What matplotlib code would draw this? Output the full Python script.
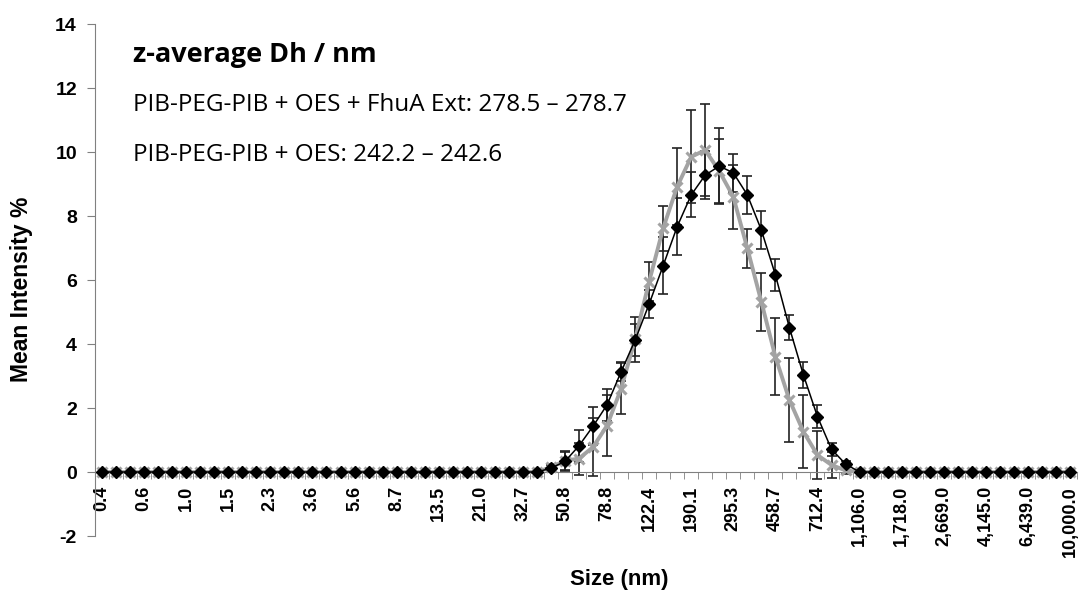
import numpy as np
import matplotlib
matplotlib.use("Agg")
import matplotlib.pyplot as plt

plt.rcParams["font.family"] = ["Liberation Sans", "DejaVu Sans"]
plt.rcParams["axes.unicode_minus"] = False

# DLS size bins (nm) - 70 classes
sizes = [0.4, 0.4632, 0.5365, 0.6213, 0.7195, 0.8332, 0.9649, 1.117, 1.294, 1.499,
         1.736, 2.010, 2.328, 2.696, 3.122, 3.615, 4.187, 4.849, 5.615, 6.503,
         7.531, 8.721, 10.10, 11.70, 13.54, 15.69, 18.17, 21.04, 24.36, 28.21,
         32.67, 37.84, 43.82, 50.75, 58.77, 68.06, 78.82, 91.28, 105.7, 122.4,
         141.8, 164.2, 190.1, 220.2, 255.0, 295.3, 342.0, 396.1, 458.7, 531.2,
         615.1, 712.4, 825.0, 955.4, 1106, 1281, 1484, 1718, 1990, 2305,
         2669, 3091, 3580, 4145, 4801, 5560, 6439, 7456, 8635, 10000]
tick_labels = ["0.4", "0.6", "1.0", "1.5", "2.3", "3.6", "5.6", "8.7", "13.5", "21.0",
               "32.7", "50.8", "78.8", "122.4", "190.1", "295.3", "458.7", "712.4",
               "1,106.0", "1,718.0", "2,669.0", "4,145.0", "6,439.0", "10,000.0"]

# PIB-PEG-PIB + OES + FhuA Ext (black diamonds)
fhua = [0, 0, 0, 0, 0, 0, 0, 0, 0, 0,
        0, 0, 0, 0, 0, 0, 0, 0, 0, 0,
        0, 0, 0, 0, 0, 0, 0, 0, 0, 0,
        0, 0.0, 0.12, 0.33, 0.82, 1.43, 2.10, 3.13, 4.12, 5.25,
        6.45, 7.67, 8.66, 9.28, 9.56, 9.35, 8.66, 7.56, 6.16, 4.51,
        3.03, 1.73, 0.71, 0.25, 0.0, 0, 0, 0, 0, 0,
        0, 0, 0, 0, 0, 0, 0, 0, 0, 0]
fhua_err = [0, 0, 0, 0, 0, 0, 0, 0, 0, 0,
            0, 0, 0, 0, 0, 0, 0, 0, 0, 0,
            0, 0, 0, 0, 0, 0, 0, 0, 0, 0,
            0, 0, 0.1, 0.3, 0.5, 0.6, 0.5, 0.3, 0.5, 0.45,
            0.9, 0.9, 0.7, 0.75, 1.2, 0.6, 0.6, 0.6, 0.5, 0.4,
            0.4, 0.35, 0.2, 0.1, 0, 0, 0, 0, 0, 0,
            0, 0, 0, 0, 0, 0, 0, 0, 0, 0]

# PIB-PEG-PIB + OES (grey crosses)
oes = [0, 0, 0, 0, 0, 0, 0, 0, 0, 0,
       0, 0, 0, 0, 0, 0, 0, 0, 0, 0,
       0, 0, 0, 0, 0, 0, 0, 0, 0, 0,
       0, 0.0, 0.15, 0.35, 0.42, 0.78, 1.45, 2.60, 4.15, 5.95,
       7.62, 8.92, 9.85, 10.06, 9.40, 8.60, 6.99, 5.32, 3.60, 2.25,
       1.26, 0.53, 0.22, 0.05, 0.0, 0, 0, 0, 0, 0,
       0, 0, 0, 0, 0, 0, 0, 0, 0, 0]
oes_err = [0, 0, 0, 0, 0, 0, 0, 0, 0, 0,
           0, 0, 0, 0, 0, 0, 0, 0, 0, 0,
           0, 0, 0, 0, 0, 0, 0, 0, 0, 0,
           0, 0, 0.1, 0.3, 0.5, 0.9, 0.95, 0.8, 0.7, 0.6,
           0.7, 1.2, 1.45, 1.45, 1.0, 1.0, 0.6, 0.9, 1.2, 1.3,
           1.15, 0.75, 0.4, 0.1, 0, 0, 0, 0, 0, 0,
           0, 0, 0, 0, 0, 0, 0, 0, 0, 0]

x = np.arange(len(sizes))

fig = plt.figure(figsize=(10.81, 5.90), dpi=100)
ax = fig.add_axes([0.0879, 0.0915, 0.9084, 0.8678])

grey = "#a3a3a3"
ax.errorbar(x, oes, yerr=np.where(np.array(oes_err) > 0, oes_err, np.nan), fmt="none",
            ecolor="#222222", elinewidth=1.2, capsize=3.5, capthick=1.2, zorder=2)
ax.errorbar(x, fhua, yerr=np.where(np.array(fhua_err) > 0, fhua_err, np.nan), fmt="none",
            ecolor="#222222", elinewidth=1.2, capsize=3.5, capthick=1.2, zorder=2)
ax.plot(x, oes, color=grey, lw=2.8, marker="x", ms=7, mew=2.2, zorder=3)
ax.plot(x, fhua, color="black", lw=1.1, marker="D", ms=6, zorder=4)

ax.set_xlim(-0.5, len(sizes) - 0.5)
ax.set_ylim(-2, 14)
ax.set_yticks(np.arange(-2, 15, 2))
ax.set_xticks(x[::3])
ax.set_xticklabels(tick_labels)
ax.set_xticks(np.arange(-0.5, len(sizes), 1), minor=True)

for s in ["top", "right"]:
    ax.spines[s].set_visible(False)
ax.spines["bottom"].set_position(("data", 0))
ax.spines["left"].set_color("#808080")
ax.spines["bottom"].set_color("#808080")
ax.tick_params(axis="y", length=6, color="#808080", pad=7, labelsize=14)
ax.tick_params(axis="x", which="major", length=0, pad=10, labelsize=13,
               labelrotation=90)
ax.tick_params(axis="x", which="minor", length=5, color="#808080")
for lab in ax.get_xticklabels() + ax.get_yticklabels():
    lab.set_fontweight("bold")

fig.text(0.020, 0.510, "Mean Intensity %", rotation=90, ha="center", va="center",
         fontsize=16.5, fontweight="bold")
fig.text(0.573, 0.017, "Size (nm)", ha="center", va="center",
         fontsize=16, fontweight="bold")

fig.text(0.123, 0.907, "z-average Dh / nm", fontsize=19.5, fontweight="bold",
         family="Open Sans", va="center")
fig.text(0.123, 0.822, "PIB-PEG-PIB + OES + FhuA Ext: 278.5 \u2013 278.7", fontsize=17.5,
         family="Open Sans", va="center")
fig.text(0.123, 0.737, "PIB-PEG-PIB + OES: 242.2 \u2013 242.6", fontsize=17.5,
         family="Open Sans", va="center")

fig.savefig("out.png", dpi=100)
